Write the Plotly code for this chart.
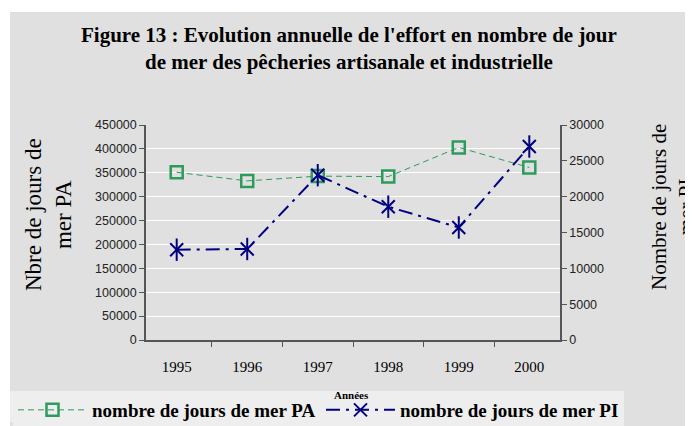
import plotly.graph_objects as go

# Données
annees = ['1995', '1996', '1997', '1998', '1999', '2000']
jours_pa = [351000, 333000, 343000, 342000, 403000, 361000]
jours_pi = [12600, 12700, 23000, 18600, 15700, 27000]

# la page ajoute une marge de 8 px en haut et à gauche
OFF = 8
W, H = 693 - OFF, 426 - OFF
ML, MR, MT, MB = 146 - OFF, 133, 125 - OFF, 86
PW, PH = W - ML - MR, H - MT - MB


def px_x(p):
    # pixel horizontal (écran) -> coordonnée paper
    return (p - OFF - ML) / PW


def px_y(p):
    # pixel vertical (écran) -> coordonnée paper
    return (H - MB - (p - OFF)) / PH


def texte(t, x, y, size, bold=False, angle=0):
    return dict(text=t, xref='paper', yref='paper', x=px_x(x), y=px_y(y),
                xanchor='center', yanchor='middle', textangle=angle, showarrow=False,
                font=dict(size=size, weight='bold' if bold else 'normal'))


def legende(x):
    return dict(
        orientation='h', x=px_x(x), xanchor='left', y=px_y(391), yanchor='top',
        bgcolor='#eeeeee', font=dict(family='Liberation Serif', size=19, color='black', weight='bold'),
        itemwidth=69,
    )


fig = go.Figure()

fig.add_trace(go.Scatter(
    x=annees, y=jours_pa, name='nombre de jours de mer PA', legend='legend',
    mode='lines+markers',
    line=dict(color='#2e9a5c', width=1, dash='6px,4px'),
    marker=dict(symbol='square-open', size=12, color='#2e9a5c', line=dict(width=2.5)),
))

fig.add_trace(go.Scatter(
    x=annees, y=jours_pi, name='nombre de jours de mer PI', yaxis='y2', legend='legend2',
    mode='lines+markers',
    line=dict(color='#000080', width=2, dash='14px,6px,3px,6px'),
    marker=dict(symbol='x-thin-open', size=13, color='#000080', line=dict(width=2, color='#000080')),
))
# barre verticale de l'étoile
fig.add_trace(go.Scatter(
    x=annees, y=jours_pi, yaxis='y2', mode='markers', showlegend=False, hoverinfo='skip',
    marker=dict(symbol='line-ns-open', size=16, color='#000080', line=dict(width=2, color='#000080')),
))

fig.update_layout(
    width=W, height=H,
    margin=dict(l=ML, r=MR, t=MT, b=MB, autoexpand=False),
    paper_bgcolor='white',
    plot_bgcolor='rgba(0,0,0,0)',
    font=dict(family='Liberation Serif', color='black'),
    showlegend=True,
    legend=legende(13),
    legend2=legende(321),
    xaxis=dict(
        type='category', showline=True, linecolor='#555555', linewidth=1.5,
        ticks='outside', tickson='boundaries', ticklen=5, tickcolor='#555555',
        showgrid=False, ticklabelstandoff=12,
        tickfont=dict(family='Liberation Serif', size=15, color='black'),
    ),
    yaxis=dict(
        range=[0, 450000], dtick=50000, tickformat='d', showline=True, linecolor='#555555',
        linewidth=1.5, ticks='outside', ticklen=5, tickcolor='#555555', gridcolor='white',
        gridwidth=1, zeroline=False, tickfont=dict(family='Liberation Sans', size=12.5, color='#222222'),
    ),
    yaxis2=dict(
        range=[0, 30000], dtick=5000, tickformat='d', overlaying='y', side='right', showline=True,
        linecolor='#555555', linewidth=1.5, ticks='outside', ticklen=5, tickcolor='#555555',
        showgrid=False, zeroline=False, tickfont=dict(family='Liberation Sans', size=12.5, color='#222222'),
    ),
    shapes=[
        dict(type='rect', xref='paper', yref='paper', layer='below',
             x0=px_x(10), x1=px_x(700), y0=px_y(430), y1=px_y(12),
             fillcolor='#e0e0e0', line=dict(width=0)),
        # cadre de la légende
        dict(type='rect', xref='paper', yref='paper', layer='below',
             x0=px_x(10), x1=px_x(623), y0=px_y(422), y1=px_y(391),
             fillcolor='#eeeeee', line=dict(width=0)),
    ],
    annotations=[
        texte("Figure 13 : Evolution annuelle de l'effort en nombre de jour", 349, 35, 21, bold=True),
        texte("de mer des pêcheries artisanale et industrielle", 349, 62, 21, bold=True),
        texte('Nbre de jours de<br>mer PA', 48, 215, 23, angle=-90),
        texte('Nombre de jours de<br>mer PI', 672, 207, 21, angle=-90),
        texte('Années', 351, 395, 11, bold=True),
    ],
)

fig.write_html('out.html')
